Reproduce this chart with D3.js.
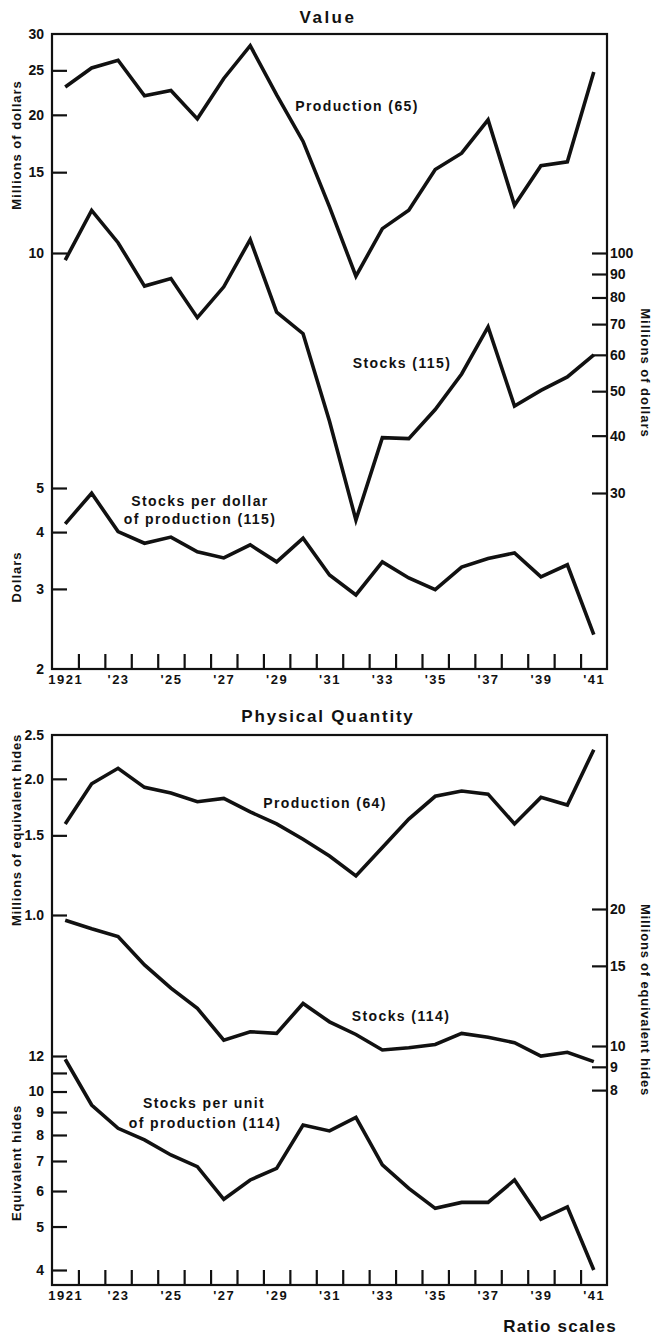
<!DOCTYPE html>
<html>
<head>
<meta charset="utf-8">
<script src="https://cdn.jsdelivr.net/npm/d3@7"></script>
<style>
  html, body { margin: 0; padding: 0; background: #fff; }
  svg text { font-family: "Liberation Sans", Arial, sans-serif; font-weight: bold; fill: #111; }
</style>
</head>
<body>
<svg id="chart" width="653" height="1336"></svg>
<script>
// ---------- data ----------
const years = d3.range(1921, 1942);
const xTickYears = d3.range(1921.5, 1941, 1);
const xLabelYears = [1921, 1923, 1925, 1927, 1929, 1931, 1933, 1935, 1937, 1939, 1941];
const xLabelText = ["1921", "'23", "'25", "'27", "'29", "'31", "'33", "'35", "'37", "'39", "'41"];

// Value panel
const valueProduction = [23.0, 25.3, 26.3, 22.0, 22.6, 19.6, 24.0, 28.3, 22.1, 17.5, 12.6, 8.9, 11.3, 12.4, 15.2, 16.5, 19.5, 12.7, 15.5, 15.8, 24.8];
const valueStocks = [96.5, 123.8, 105.3, 84.7, 88.0, 72.3, 84.4, 107.0, 74.3, 66.7, 43.0, 26.2, 39.6, 39.4, 45.6, 54.5, 69.0, 46.4, 50.2, 53.7, 60.0];
const valueRatio = [4.17, 4.87, 4.01, 3.78, 3.90, 3.62, 3.51, 3.75, 3.44, 3.88, 3.22, 2.91, 3.44, 3.17, 2.99, 3.35, 3.50, 3.60, 3.19, 3.39, 2.38];

// Physical quantity panel
const qtyProduction = [1.59, 1.95, 2.11, 1.915, 1.86, 1.78, 1.81, 1.69, 1.59, 1.47, 1.35, 1.22, 1.41, 1.63, 1.83, 1.88, 1.85, 1.59, 1.82, 1.75, 2.32];
const qtyStocks = [18.9, 18.1, 17.4, 15.07, 13.4, 12.1, 10.3, 10.75, 10.66, 12.4, 11.3, 10.6, 9.8, 9.91, 10.08, 10.66, 10.45, 10.17, 9.5, 9.69, 9.24];
const qtyRatio = [11.8, 9.33, 8.28, 7.80, 7.22, 6.80, 5.75, 6.35, 6.74, 8.42, 8.17, 8.76, 6.86, 6.08, 5.49, 5.66, 5.66, 6.35, 5.19, 5.53, 4.0];

// Tick values
const tValueLeft = [30, 25, 20, 15, 10];
const tValueRight = [100, 90, 80, 70, 60, 50, 40, 30];
const tValueDollars = [5, 4, 3, 2];
const tQtyLeft = [2.5, 2.0, 1.5, 1.0];
const tQtyRight = [20, 15, 10, 9, 8];
const tQtyRatio = [12, 11, 10, 9, 8, 7, 6, 5, 4];
const tQtyRatioLabels = {12: "12", 11: "", 10: "10", 9: "9", 8: "8", 7: "7", 6: "6", 5: "5", 4: "4"};

// ---------- layout ----------
const L = 52, R = 607;
const top1 = 34, bot1 = 669;
const top2 = 735, bot2 = 1285;
const FONT = "'Liberation Sans', Arial, sans-serif";

const svg = d3.select("#chart");
const x = d3.scaleLinear().domain([1920.5, 1941.5]).range([L, R]);

const yVP = d3.scaleLog().domain([10, 30]).range([253, top1]);
const yVS = d3.scaleLog().domain([100, 300]).range([253, top1]);
const yVR = d3.scaleLog().domain([2, 5]).range([bot1, 488]);

const yQP = d3.scaleLog().domain([1, 2.5]).range([915, top2]);
const yQS = d3.scaleLog().domain([10, 20]).range([1046, 909]);
const yQR = d3.scaleLog().domain([4, 12]).range([1270, 1056]);

function frame(t, b) {
  svg.append("rect").attr("x", L).attr("y", t).attr("width", R - L).attr("height", b - t)
    .attr("fill", "none").attr("stroke", "#111").attr("stroke-width", 2.2);
}
frame(top1, bot1);
frame(top2, bot2);

function styleAxis(g, fs) {
  g.select(".domain").remove();
  g.selectAll(".tick line").attr("stroke", "#111").attr("stroke-width", 2.2);
  g.selectAll(".tick text").attr("fill", "#111")
    .style("font-size", (fs || 14) + "px").style("font-family", FONT)
    .style("font-weight", "bold");
}

function leftAxis(scale, vals, fmt) {
  const g = svg.append("g").attr("transform", `translate(${L},0)`)
    .call(d3.axisLeft(scale).tickValues(vals).tickFormat(fmt).tickSizeInner(-15).tickSizeOuter(0).tickPadding(8));
  styleAxis(g);
  return g;
}
function rightAxis(scale, vals, fmt) {
  const g = svg.append("g").attr("transform", `translate(${R},0)`)
    .call(d3.axisRight(scale).tickValues(vals).tickFormat(fmt).tickSizeInner(-15).tickSizeOuter(0).tickPadding(3));
  styleAxis(g);
  return g;
}
function bottomAxis(yb) {
  const g = svg.append("g").attr("transform", `translate(0,${yb})`)
    .call(d3.axisBottom(x).tickValues(xTickYears).tickFormat("").tickSizeInner(-15).tickSizeOuter(0));
  styleAxis(g);
  const g2 = svg.append("g").attr("transform", `translate(0,${yb})`)
    .call(d3.axisBottom(x).tickValues(xLabelYears).tickFormat((d, i) => xLabelText[i]).tickSize(0).tickPadding(6));
  styleAxis(g2, 13);
  g2.selectAll(".tick text").style("letter-spacing", "1.5px");
}

// Value axes
leftAxis(yVP, tValueLeft, d3.format("d")).selectAll(".tick").filter(d => d === 30).select("line").remove();
leftAxis(yVR, tValueDollars, d3.format("d")).selectAll(".tick").filter(d => d === 2).select("line").remove();
rightAxis(yVS, tValueRight, d3.format("d"));
bottomAxis(bot1);

// Quantity axes
leftAxis(yQP, tQtyLeft, d3.format(".1f")).selectAll(".tick").filter(d => d === 2.5).select("line").remove();
leftAxis(yQR, tQtyRatio, d => tQtyRatioLabels[d]);
rightAxis(yQS, tQtyRight, d3.format("d"));
bottomAxis(bot2);

// lines
function series(vals, scale) {
  const line = d3.line().x((d, i) => x(years[i])).y(d => scale(d));
  svg.append("path").datum(vals).attr("d", line)
    .attr("fill", "none").attr("stroke", "#111").attr("stroke-width", 3.6)
    .attr("stroke-linejoin", "miter").attr("stroke-linecap", "butt");
}
series(valueProduction, yVP);
series(valueStocks, yVS);
series(valueRatio, yVR);
series(qtyProduction, yQP);
series(qtyStocks, yQS);
series(qtyRatio, yQR);

// text
function txt(s, xx, yy, fs, anchor, ls, rot) {
  const t = svg.append("text").attr("x", xx).attr("y", yy).text(s)
    .style("font-size", fs + "px").attr("text-anchor", anchor || "middle")
    .style("letter-spacing", (ls || 0) + "px");
  if (rot) t.attr("transform", `rotate(${rot},${xx},${yy})`);
  return t;
}
txt("Value", 328, 23, 17, "middle", 2.5);
txt("Physical Quantity", 328, 722, 17, "middle", 1.8);
txt("Ratio scales", 560, 1332, 17, "middle", 1.2);

txt("Production (65)", 357, 111, 14, "middle", 1.4);
txt("Stocks (115)", 402, 368, 14, "middle", 1.4);
txt("Stocks per dollar", 200, 506, 14, "middle", 1.4);
txt("of production (115)", 200, 524, 14, "middle", 1.4);

txt("Production (64)", 325, 808, 14, "middle", 1.4);
txt("Stocks (114)", 401, 1021, 14, "middle", 1.4);
txt("Stocks per unit", 204, 1108, 14, "middle", 1.4);
txt("of production (114)", 205, 1128, 14, "middle", 1.4);

// axis titles
txt("Millions of dollars", 21, 145, 13, "middle", 1, -90);
txt("Dollars", 21, 577, 13, "middle", 1, -90);
txt("Millions of dollars", 641, 373, 13, "middle", 1, 90);
txt("Millions of equivalent hides", 21, 830, 13, "middle", 0.8, -90);
txt("Equivalent hides", 21, 1163, 13, "middle", 0.8, -90);
txt("Millions of equivalent hides", 641, 1000, 13, "middle", 0.8, 90);
</script>
</body>
</html>
